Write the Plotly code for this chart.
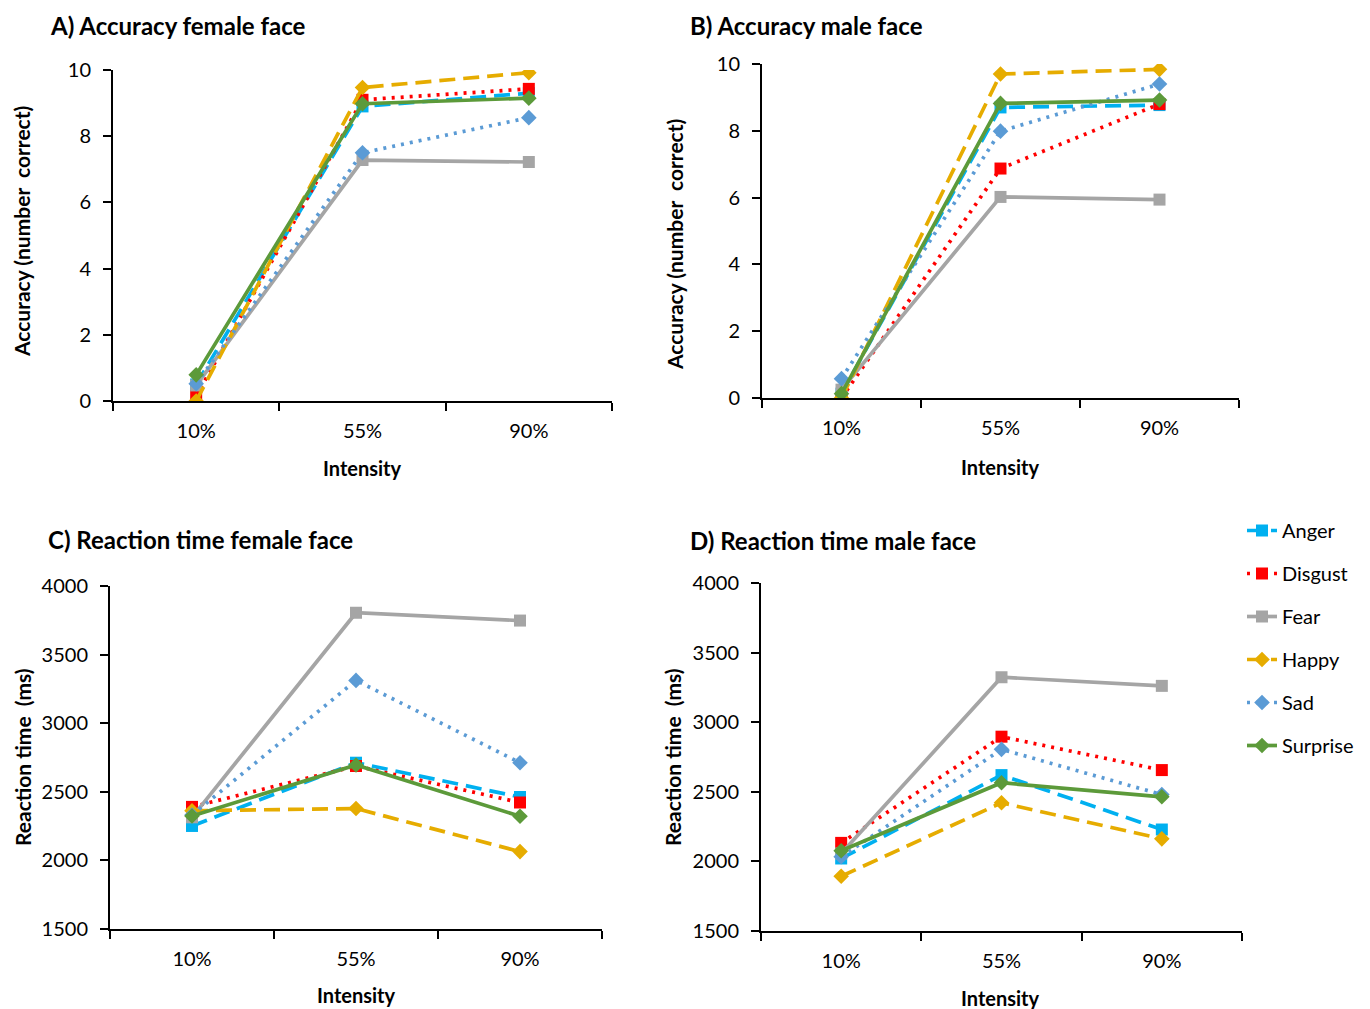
import plotly.graph_objects as go

intensity = ["10%", "55%", "90%"]
emotions = ["Anger", "Disgust", "Fear", "Happy", "Sad", "Surprise"]

# accuracy (number correct), female face
acc_female = {
    "Anger":    [0.5, 8.9, 9.3],
    "Disgust":  [0.15, 9.1, 9.43],
    "Fear":     [0.47, 7.28, 7.22],
    "Happy":    [0.0, 9.47, 9.92],
    "Sad":      [0.52, 7.5, 8.56],
    "Surprise": [0.79, 8.98, 9.15],
}
# accuracy (number correct), male face
acc_male = {
    "Anger":    [0.13, 8.7, 8.77],
    "Disgust":  [0.0, 6.87, 8.8],
    "Fear":     [0.25, 6.02, 5.94],
    "Happy":    [0.0, 9.7, 9.84],
    "Sad":      [0.58, 7.99, 9.4],
    "Surprise": [0.13, 8.82, 8.92],
}
# reaction time (ms), female face
rt_female = {
    "Anger":    [2251, 2712, 2462],
    "Disgust":  [2390, 2688, 2422],
    "Fear":     [2314, 3805, 3748],
    "Happy":    [2362, 2378, 2064],
    "Sad":      [2331, 3312, 2712],
    "Surprise": [2324, 2695, 2322],
}
# reaction time (ms), male face
rt_male = {
    "Anger":    [2021, 2620, 2229],
    "Disgust":  [2133, 2896, 2656],
    "Fear":     [2057, 3323, 3261],
    "Happy":    [1893, 2421, 2162],
    "Sad":      [2033, 2805, 2480],
    "Surprise": [2076, 2565, 2464],
}

styles = {
    "Anger":    dict(color="#00B0F0", dash="16px,8px", symbol="square", size=12),
    "Disgust":  dict(color="#FF0000", dash="3px,6px", symbol="square", size=12),
    "Fear":     dict(color="#A5A5A5", dash="solid", symbol="square", size=12),
    "Happy":    dict(color="#E6AC00", dash="16px,8px", symbol="diamond", size=12),
    "Sad":      dict(color="#5B9BD5", dash="3px,6px", symbol="diamond", size=12),
    "Surprise": dict(color="#5C9A3A", dash="solid", symbol="diamond", size=12),
}

font = "Lato, Open Sans, sans-serif"
# the page body has an 8px margin, so work in reference pixels shifted by 8
OFF = 8
W, H = 1370 - OFF, 1009 - OFF


def px(x):
    return (x - OFF) / W


def py(y):
    return 1 - (y - OFF) / H


fig = go.Figure()

panels = [
    (acc_female, "x", "y", True),
    (acc_male, "x2", "y2", False),
    (rt_female, "x3", "y3", False),
    (rt_male, "x4", "y4", False),
]
for data, xa, ya, leg in panels:
    for emo in emotions:
        s = styles[emo]
        fig.add_trace(go.Scatter(
            x=intensity, y=data[emo], name=emo, xaxis=xa, yaxis=ya,
            mode="lines+markers", showlegend=leg, legendgroup=emo,
            line=dict(color=s["color"], width=3.7, dash=s["dash"]),
            marker=dict(color=s["color"], symbol=s["symbol"], size=s["size"]),
        ))

# plot areas in reference pixels: (left, right, top, bottom)
boxes = {
    "": (113, 612, 70, 401),
    "2": (762, 1239, 64, 398),
    "3": (110, 602, 586, 929),
    "4": (761, 1242, 583, 931),
}
ranges = {"": [0, 10], "2": [0, 10], "3": [1500, 4000], "4": [1500, 4000]}
dticks = {"": 2, "2": 2, "3": 500, "4": 500}

axis_common = dict(showline=True, linecolor="black", linewidth=2, ticks="outside",
                   tickcolor="black", tickwidth=2, ticklen=8, showgrid=False, zeroline=False,
                   tickfont=dict(family=font, size=20, color="black"))
layout = {}
for k, (l, r, t, b) in boxes.items():
    layout["xaxis" + k] = dict(axis_common, domain=[px(l), px(r)], anchor="y" + k,
                               type="category", tickson="boundaries", range=[-0.5, 2.5],
                               ticklabelstandoff=11)
    layout["yaxis" + k] = dict(axis_common, domain=[py(b), py(t)], anchor="x" + k,
                               range=ranges[k], dtick=dticks[k], ticklabelstandoff=8)
fig.update_layout(**layout)

ann = []
# panel titles (x, top edge of the text box) in reference pixels
titles = [
    ("A) Accuracy female face", 48, 9),
    ("B) Accuracy male face", 688, 9),
    ("C) Reaction time female face", 46, 523),
    ("D) Reaction time male face", 688, 524),
]
for txt, x, y in titles:
    ann.append(dict(text="<b>" + txt + "</b>", x=px(x), y=py(y), xref="paper", yref="paper",
                    xanchor="left", yanchor="top", showarrow=False,
                    font=dict(family=font, size=24, color="black")))
for x, y in [(362, 468), (1000, 467), (356, 995), (1000, 998)]:
    ann.append(dict(text="<b>Intensity</b>", x=px(x), y=py(y), xref="paper", yref="paper",
                    xanchor="center", yanchor="middle", showarrow=False,
                    font=dict(family=font, size=20, color="black")))
for txt, x, y in [("Accuracy (number  correct)", 22, 232), ("Accuracy (number  correct)", 675, 245),
                  ("Reaction time  (ms)", 22, 757), ("Reaction time  (ms)", 672, 757)]:
    ann.append(dict(text="<b>" + txt + "</b>", x=px(x), y=py(y), xref="paper", yref="paper",
                    xanchor="center", yanchor="middle", showarrow=False, textangle=-90,
                    font=dict(family=font, size=21, color="black")))

fig.update_layout(
    width=W, height=H, margin=dict(l=0, r=0, t=0, b=0, autoexpand=False),
    paper_bgcolor="white", plot_bgcolor="white",
    annotations=ann,
    legend=dict(x=px(1242), y=py(511), xanchor="left", yanchor="top",
                font=dict(family=font, size=20, color="black"), tracegroupgap=14,
                bgcolor="rgba(0,0,0,0)"),
)

fig.write_html("out.html")
